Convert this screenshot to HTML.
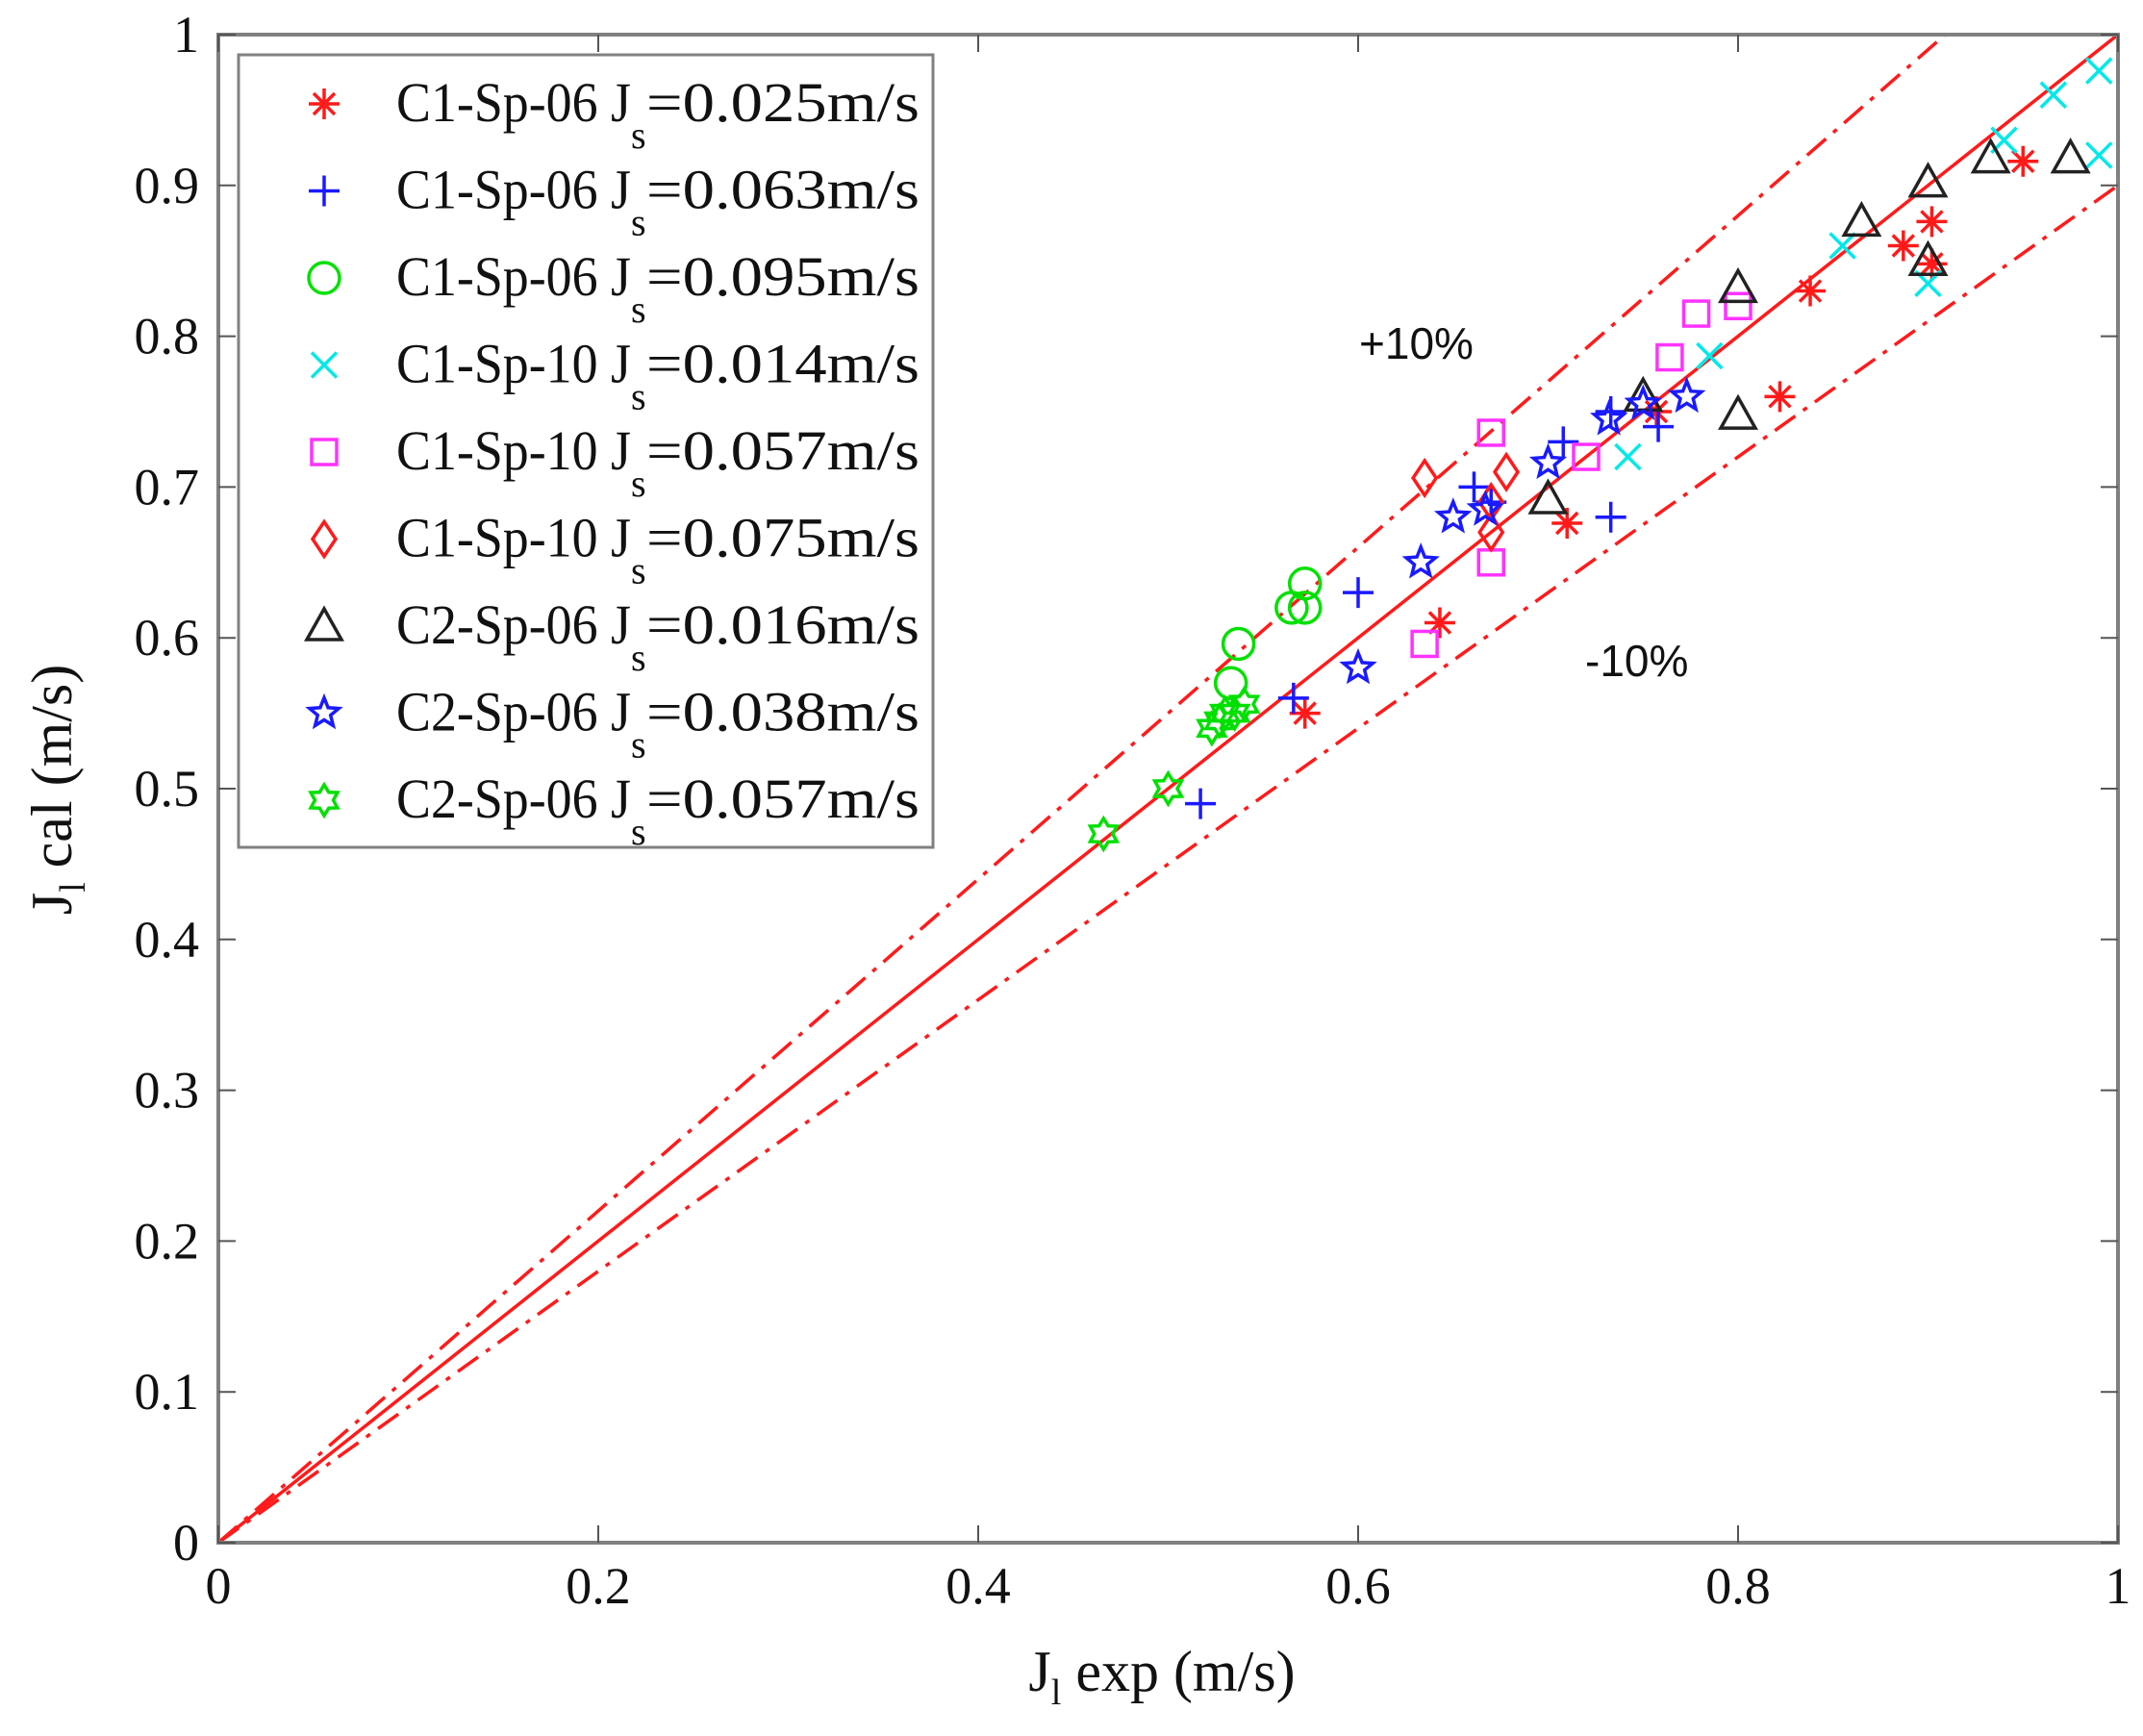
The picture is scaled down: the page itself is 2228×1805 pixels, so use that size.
<!DOCTYPE html>
<html><head><meta charset="utf-8"><style>
html,body{margin:0;padding:0;background:#fff;width:2228px;height:1805px;overflow:hidden}
svg{display:block}
text{font-family:"Liberation Serif",serif;fill:#111}
</style></head><body>
<svg id="chart" width="2228" height="1805" viewBox="0 0 2228 1805" xmlns="http://www.w3.org/2000/svg">
<g id="grid"></g>
<g id="marks"></g>
<g id="axes"></g>
<g id="legend"></g>
<text x="1413" y="373" font-size="46" style="font-family:'Liberation Sans',sans-serif">+10%</text>
<text x="1648" y="703" font-size="46" style="font-family:'Liberation Sans',sans-serif">-10%</text>
<text x="1208" y="1758" font-size="60" text-anchor="middle">J<tspan font-size="38" dy="14">l</tspan><tspan dy="-14"> exp (m/s)</tspan></text>
<text transform="translate(74,821) rotate(-90)" font-size="60" text-anchor="middle">J<tspan font-size="38" dy="14">l</tspan><tspan dy="-14"> cal (m/s)</tspan></text>
</svg>
<script>
const xTicks=[0,0.2,0.4,0.6,0.8,1];
const xTickLabels=["0","0.2","0.4","0.6","0.8","1"];
const yTicks=[0,0.1,0.2,0.3,0.4,0.5,0.6,0.7,0.8,0.9,1];
const yTickLabels=["0","0.1","0.2","0.3","0.4","0.5","0.6","0.7","0.8","0.9","1"];
const seriesNames=["C1-Sp-06|0.025","C1-Sp-06|0.063","C1-Sp-06|0.095","C1-Sp-10|0.014","C1-Sp-10|0.057","C1-Sp-10|0.075","C2-Sp-06|0.016","C2-Sp-06|0.038","C2-Sp-06|0.057"];
const s1x=[0.572,0.643,0.71,0.757,0.822,0.838,0.887,0.902,0.902,0.95];
const s1y=[0.55,0.61,0.676,0.75,0.76,0.83,0.86,0.876,0.848,0.916];
const s2x=[0.517,0.566,0.6,0.661,0.708,0.733,0.733,0.758,0.67];
const s2y=[0.49,0.56,0.63,0.70,0.73,0.75,0.68,0.74,0.69];
const s3x=[0.533,0.537,0.565,0.572,0.572];
const s3y=[0.57,0.596,0.62,0.62,0.636];
const s4x=[0.742,0.785,0.855,0.9,0.94,0.966,0.99,0.99];
const s4y=[0.72,0.787,0.86,0.835,0.93,0.96,0.976,0.92];
const s5x=[0.635,0.67,0.67,0.72,0.764,0.778,0.8];
const s5y=[0.596,0.65,0.736,0.72,0.786,0.815,0.82];
const s6x=[0.635,0.67,0.67,0.678];
const s6y=[0.706,0.67,0.69,0.71];
const s7x=[0.70,0.75,0.8,0.8,0.865,0.9,0.9,0.933,0.975];
const s7y=[0.692,0.76,0.748,0.832,0.876,0.902,0.85,0.918,0.918];
const s8x=[0.6,0.633,0.65,0.667,0.7,0.732,0.75,0.773];
const s8y=[0.58,0.65,0.68,0.685,0.716,0.745,0.755,0.76];
const s9x=[0.466,0.5,0.523,0.527,0.535,0.54,0.53];
const s9y=[0.47,0.5,0.54,0.545,0.55,0.556,0.55];
const bands=[1,1.1,0.9];

const X0=227,X1=2202,Y0=1604,Y1=36;
const sx=v=>X0+(X1-X0)*v, sy=v=>Y0-(Y0-Y1)*v;
const NS="http://www.w3.org/2000/svg";
function mk(tag,attrs,parent){const e=document.createElementNS(NS,tag);for(const k in attrs)e.setAttribute(k,attrs[k]);parent.appendChild(e);return e;}
const series=[
 {x:s1x,y:s1y,m:"star",c:"#ff1a1a"},{x:s2x,y:s2y,m:"plus",c:"#1a1aff"},{x:s3x,y:s3y,m:"circle",c:"#00e000"},
 {x:s4x,y:s4y,m:"x",c:"#00e8e8"},{x:s5x,y:s5y,m:"square",c:"#ff33ff"},{x:s6x,y:s6y,m:"diamond",c:"#ff1a1a"},
 {x:s7x,y:s7y,m:"triangle",c:"#222"},{x:s8x,y:s8y,m:"pentagram",c:"#1a1aff"},{x:s9x,y:s9y,m:"hexagram",c:"#00e000"}];
function marker(g,type,cx,cy,c){
 const r=16,st={fill:"none",stroke:c,"stroke-width":3.5};
 let e;
 if(type==="circle")e=mk("circle",Object.assign({cx,cy,r},st),g);
 else if(type==="square")e=mk("rect",Object.assign({x:cx-13,y:cy-13,width:26,height:26},st),g);
 else if(type==="diamond")e=mk("polygon",Object.assign({points:`${cx},${cy-18} ${cx+12},${cy} ${cx},${cy+18} ${cx-12},${cy}`},st),g);
 else if(type==="triangle")e=mk("polygon",Object.assign({points:`${cx},${cy-18} ${cx+18},${cy+14} ${cx-18},${cy+14}`},st),g);
 else if(type==="plus")e=mk("path",Object.assign({d:`M${cx-r} ${cy}H${cx+r}M${cx} ${cy-r}V${cy+r}`},st),g);
 else if(type==="x")e=mk("path",Object.assign({d:`M${cx-13} ${cy-13}L${cx+13} ${cy+13}M${cx-13} ${cy+13}L${cx+13} ${cy-13}`},st),g);
 else if(type==="star")e=mk("path",Object.assign({d:`M${cx-r} ${cy}H${cx+r}M${cx} ${cy-r}V${cy+r}M${cx-11} ${cy-11}L${cx+11} ${cy+11}M${cx-11} ${cy+11}L${cx+11} ${cy-11}`},st),g);
 else if(type==="pentagram"){let p=[];for(let i=0;i<10;i++){const a=-Math.PI/2+i*Math.PI/5,rr=i%2?7:16;p.push((cx+rr*Math.cos(a)).toFixed(1)+","+(cy+rr*Math.sin(a)).toFixed(1));}e=mk("polygon",Object.assign({points:p.join(" ")},st),g);}
 else {let p=[];for(let i=0;i<12;i++){const a=-Math.PI/2+i*Math.PI/6,rr=i%2?9.5:16;p.push((cx+rr*Math.cos(a)).toFixed(1)+","+(cy+rr*Math.sin(a)).toFixed(1));}e=mk("polygon",Object.assign({points:p.join(" ")},st),g);}
 return e;
}
const gl=document.getElementById("grid");
bands.forEach((k,i)=>{
 const xe=Math.min(1,1/k);
 const l=mk("line",{x1:sx(0),y1:sy(0),x2:sx(xe),y2:sy(k*xe),stroke:"#ff1a1a","stroke-width":3.5,"stroke-dasharray":i===0?"none":"26,10,5,10"},gl);
 
 
});
const gm=document.getElementById("marks");
series.forEach((s,si)=>{
 const g=mk("g",{},gm);
 
 
 s.x.forEach((v,i)=>{
  const e=marker(g,s.m,sx(v),sy(s.y[i]),s.c);
  
  
 });
});
const ga=document.getElementById("axes");
const frame=mk("rect",{x:X0,y:Y1,width:X1-X0,height:Y0-Y1,fill:"none",stroke:"#808080","stroke-width":4},ga);


xTicks.forEach((v,i)=>{
 const x=sx(v);
 const t=mk("path",{d:`M${x} ${Y0}V${Y0-18}M${x} ${Y1}V${Y1+18}`,stroke:"#555","stroke-width":2},ga);
 
 
 const tx=mk("text",{x:x,y:1667,"font-size":54,"text-anchor":"middle"},ga);
 tx.textContent=xTickLabels[i];
 
 
});
yTicks.forEach((v,i)=>{
 const y=sy(v);
 const t=mk("path",{d:`M${X0} ${y}H${X0+18}M${X1} ${y}H${X1-18}`,stroke:"#555","stroke-width":2},ga);
 
 
 const tx=mk("text",{x:207,y:y+18,"font-size":54,"text-anchor":"end"},ga);
 tx.textContent=yTickLabels[i];
 
 
});
const lg=document.getElementById("legend");
const box=mk("rect",{x:248,y:57,width:722,height:824,fill:"#fff",stroke:"#808080","stroke-width":3},lg);


seriesNames.forEach((n,i)=>{
 const y=108+i*90.5;
 const g=mk("g",{},lg);
 
 
 marker(g,series[i].m,337,y,series[i].c);
 const [a,b]=n.split("|");
 const t1=mk("text",{x:412,y:y+18,"font-size":58,textLength:244,lengthAdjust:"spacingAndGlyphs"},g);
 t1.textContent=a+" J";
 const t2=mk("text",{x:656,y:y+46,"font-size":40},g);
 t2.textContent="s";
 const t3=mk("text",{x:672,y:y+18,"font-size":58,textLength:284,lengthAdjust:"spacingAndGlyphs"},g);
 t3.textContent="="+b+"m/s";
});
</script>
</body></html>
